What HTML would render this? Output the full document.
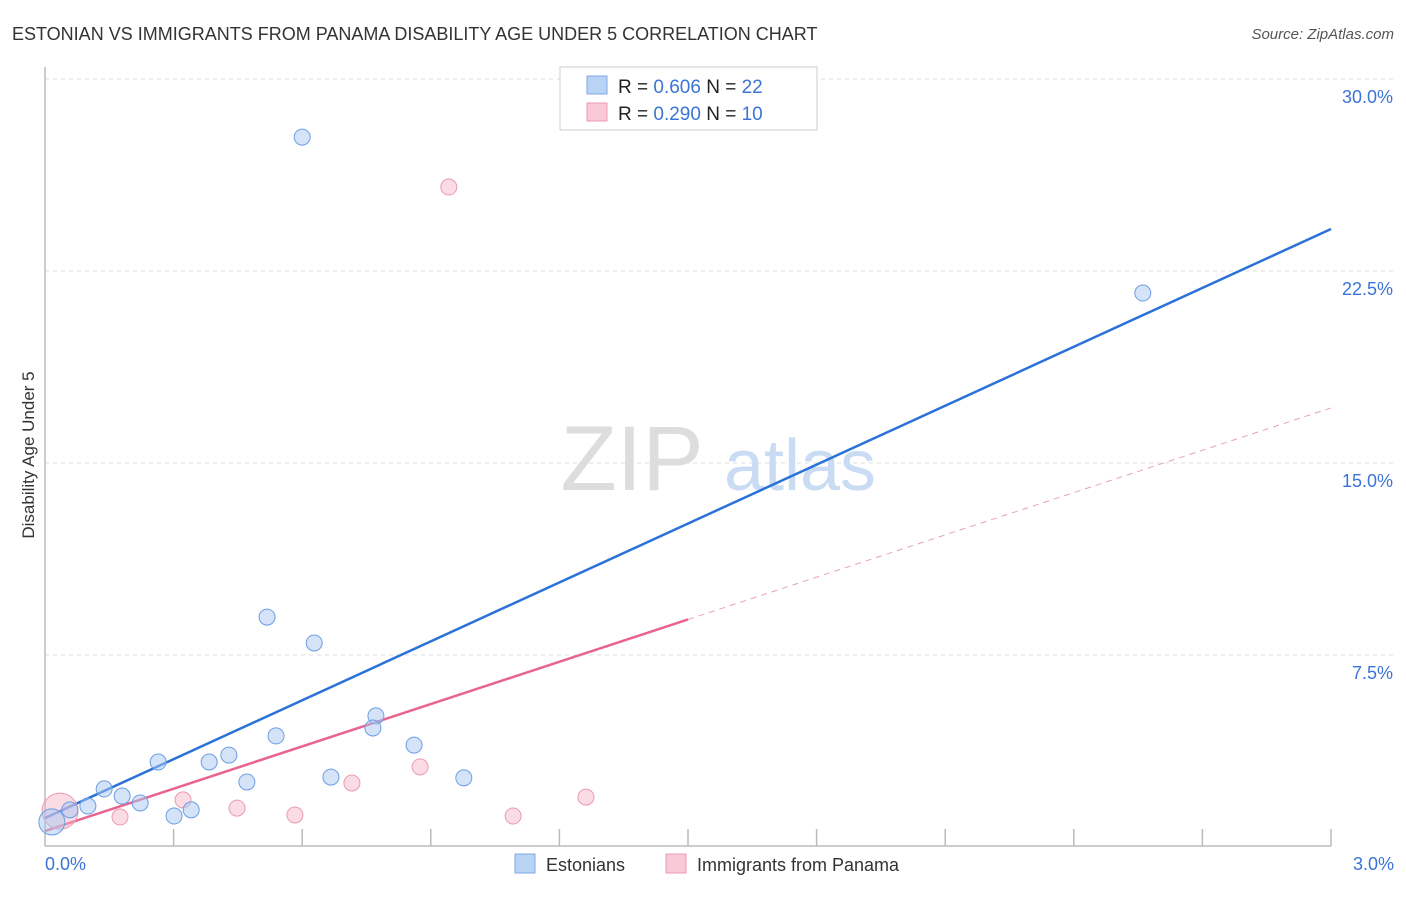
<!DOCTYPE html>
<html><head><meta charset="utf-8"><style>
body{margin:0;background:#fff;font-family:"Liberation Sans",sans-serif}
svg text{font-family:"Liberation Sans",sans-serif}
</style></head><body>
<svg width="1406" height="892" viewBox="0 0 1406 892">
<text x="12" y="40" font-size="18" fill="#333">ESTONIAN VS IMMIGRANTS FROM PANAMA DISABILITY AGE UNDER 5 CORRELATION CHART</text>
<text x="1394" y="39" font-size="15" fill="#555" font-style="italic" text-anchor="end">Source: ZipAtlas.com</text>
<g id="grid"></g>
<text x="632" y="490" font-size="92" fill="#ddd" font-family="Liberation Serif" text-anchor="middle">ZIP</text>
<text x="800" y="490" font-size="72" fill="#c9dcf3" text-anchor="middle">atlas</text>
<line x1="45" y1="67" x2="45" y2="846" stroke="#bbb" stroke-width="1.5"/>
<line x1="45" y1="846" x2="1331" y2="846" stroke="#bbb" stroke-width="1.5"/>
<g id="ticks"></g>
<g id="lines"></g>
<g id="pts"></g>
<text x="34" y="455" font-size="17" fill="#333" text-anchor="middle" transform="rotate(-90 34 455)">Disability Age Under 5</text>
<text x="45" y="870" font-size="18" fill="#3b74d6">0.0%</text>
<text x="1394" y="870" font-size="18" fill="#3b74d6" text-anchor="end">3.0%</text>
<g>
<rect x="560" y="67" width="257" height="63" fill="#fff" stroke="#ccc"/>
<rect x="587" y="76" width="20" height="18" fill="#b9d3f5" stroke="#7fa8e6"/>
<rect x="587" y="103" width="20" height="18" fill="#f9c9d7" stroke="#eb9ab2"/>
<text x="618" y="93" font-size="19" fill="#222">R = <tspan fill="#3b74d6">0.606</tspan>   N = <tspan fill="#3b74d6">22</tspan></text>
<text x="618" y="120" font-size="19" fill="#222">R = <tspan fill="#3b74d6">0.290</tspan>   N = <tspan fill="#3b74d6">10</tspan></text>
</g>
<g>
<rect x="515" y="854" width="20" height="19" fill="#b9d3f5" stroke="#7fa8e6"/>
<text x="546" y="871" font-size="18" fill="#333">Estonians</text>
<rect x="666" y="854" width="20" height="19" fill="#f9c9d7" stroke="#eb9ab2"/>
<text x="697" y="871" font-size="18" fill="#333">Immigrants from Panama</text>
</g>
</svg>
<script>
const yTicks=[7.5,15,22.5,30];
const yTickLabels=["7.5%","15.0%","22.5%","30.0%"];
const xTicks=[0.3,0.6,0.9,1.2,1.5,1.8,2.1,2.4,2.7,3.0];
const blueX=[0.600,2.561,0.518,0.628,0.772,0.765,0.539,0.861,0.264,0.429,0.383,0.471,0.667,0.977,0.138,0.180,0.222,0.100,0.058,0.301,0.341,0.016];
const blueY=[27.73,21.64,8.98,7.97,5.12,4.65,4.34,3.98,3.32,3.59,3.32,2.54,2.73,2.70,2.27,1.99,1.72,1.60,1.45,1.21,1.45,0.98];
const pinkX=[0.942,0.875,0.716,1.262,0.322,0.448,0.583,1.092,0.175,0.035];
const pinkY=[25.78,3.13,2.50,1.95,1.84,1.52,1.25,1.21,1.17,1.40];
const blueLine=[1.13,24.14];
const pinkLine=[0.625,17.15];
const pinkSolidEnd=1.5;
const NS="http://www.w3.org/2000/svg";
const sx=v=>45+v/3*1286, sy=v=>847-v/7.5*192;
function mk(t,a,p){const e=document.createElementNS(NS,t);for(const k in a)e.setAttribute(k,a[k]);p.appendChild(e);return e;}
const grid=document.getElementById('grid');
yTicks.forEach((t,i)=>{
 const l=mk('line',{x1:45,x2:1394,y1:sy(t),y2:sy(t),stroke:'#ddd','stroke-dasharray':'4 4'},grid);
 
 
 const tx=mk('text',{x:1393,y:sy(t)+24,'font-size':18,fill:'#3b74d6','text-anchor':'end'},grid);
 tx.textContent=yTickLabels[i];
 
 
});
const tk=document.getElementById('ticks');
xTicks.forEach(t=>{
 const l=mk('line',{x1:sx(t),x2:sx(t),y1:829,y2:846,stroke:'#bbb','stroke-width':1.5},tk);
 
 
});
const ln=document.getElementById('lines');
const bl=mk('line',{x1:sx(0),y1:sy(blueLine[0]),x2:sx(3),y2:sy(blueLine[1]),stroke:'#2a72d8','stroke-width':2.5},ln);


const pv=x=>pinkLine[0]+(pinkLine[1]-pinkLine[0])*x/3;
const pl=mk('line',{x1:sx(0),y1:sy(pv(0)),x2:sx(pinkSolidEnd),y2:sy(pv(pinkSolidEnd)),stroke:'#e8648e','stroke-width':2.5},ln);


const pd=mk('line',{x1:sx(pinkSolidEnd),y1:sy(pv(pinkSolidEnd)),x2:sx(3),y2:sy(pv(3)),stroke:'#e8a0b6','stroke-width':1,'stroke-dasharray':'6 5'},ln);


const pts=document.getElementById('pts');
pinkX.forEach((x,i)=>{
 const c=mk('circle',{cx:sx(x),cy:sy(pinkY[i]),r:i==9?18:8,fill:'rgba(246,175,196,0.45)',stroke:'#eb9ab2','stroke-width':1},pts);
 
 
});
blueX.forEach((x,i)=>{
 const c=mk('circle',{cx:sx(x),cy:sy(blueY[i]),r:i==21?13:8,fill:'rgba(170,200,242,0.5)',stroke:'#6b9ee3','stroke-width':1},pts);
 
 
});
</script>
</body></html>
